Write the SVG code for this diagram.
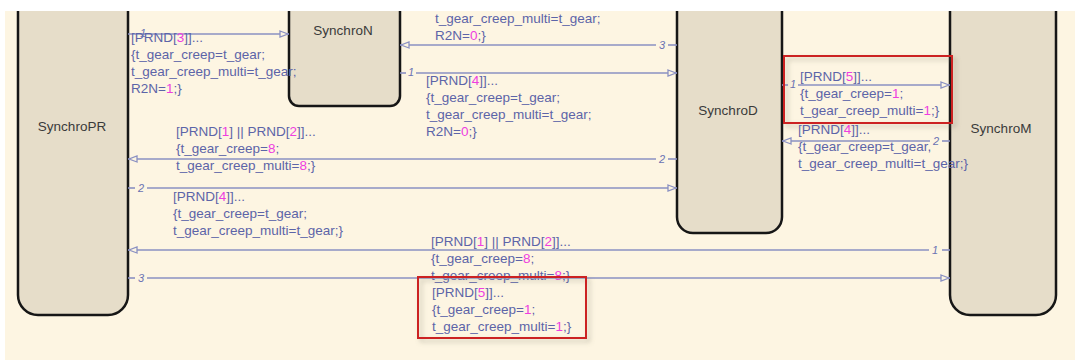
<svg xmlns="http://www.w3.org/2000/svg" width="1075" height="360" viewBox="0 0 1075 360">
<defs>
<style>
.node{fill:#E6DDC9;stroke:#161616;stroke-width:2.5}
.nlab{font-family:"Liberation Sans",Arial,sans-serif;font-size:13.5px;fill:#3a3a3a;text-anchor:middle}
.ln{stroke:#8A90C2;stroke-width:1.6;fill:none}
.num{font-family:"Liberation Sans",Arial,sans-serif;font-size:11px;font-style:italic;fill:#6A72B2;text-anchor:middle}
.lab{font-family:"Liberation Sans",Arial,sans-serif;font-size:13.5px;fill:#5C64A8}
.m{fill:#EE3EE0}
.hl{fill:none;stroke:#CC2424;stroke-width:2;filter:url(#sh)}
</style>
<marker id="ah" viewBox="0 0 10 8" refX="10" refY="4" markerWidth="10" markerHeight="8" markerUnits="userSpaceOnUse" orient="auto">
<path d="M1,1 L9,4 L1,7 Z" fill="#FDF5E2" stroke="#8A90C2" stroke-width="1.3"/>
</marker>
<filter id="sh" x="-10%" y="-10%" width="130%" height="140%">
<feDropShadow dx="3" dy="3" stdDeviation="2.5" flood-color="#808070" flood-opacity="0.45"/>
</filter>
</defs>
<rect x="0" y="0" width="1075" height="360" fill="#FDF5E2"/>

<g id="SynchroPR"><rect class="node" x="18" y="-30" width="110" height="345" rx="20"/><text class="nlab" x="72" y="131">SynchroPR</text></g>
<g id="SynchroN"><rect class="node" x="289" y="-30" width="111" height="136" rx="10"/><text class="nlab" x="343" y="35">SynchroN</text></g>
<g id="SynchroD"><rect class="node" x="677" y="-30" width="105" height="263" rx="16"/><text class="nlab" x="728" y="115">SynchroD</text></g>
<g id="SynchroM"><rect class="node" x="950" y="-30" width="106" height="345" rx="20"/><text class="nlab" x="1001" y="133">SynchroM</text></g>

<g id="connectors">
<!-- c1 PR -> N -->
<line class="ln" x1="128" y1="34" x2="289" y2="34" marker-end="url(#ah)"/>
<text class="lab" x="131" y="42">[PRND[<tspan class="m">3</tspan>]]...</text>
<text class="num" x="143" y="37">1</text>
<text class="lab" x="131" y="59">{t_gear_creep=t_gear;</text>
<text class="lab" x="131" y="76">t_gear_creep_multi=t_gear;</text>
<text class="lab" x="131" y="93">R2N=<tspan class="m">1</tspan>;}</text>
<!-- c2 D -> N -->
<line class="ln" x1="677" y1="45" x2="668" y2="45"/>
<text class="num" x="662" y="49">3</text>
<line class="ln" x1="656" y1="45" x2="400" y2="45" marker-end="url(#ah)"/>
<text class="lab" x="435" y="23">t_gear_creep_multi=t_gear;</text>
<text class="lab" x="435" y="40">R2N=<tspan class="m">0</tspan>;}</text>
<!-- c3 N -> D -->
<line class="ln" x1="400" y1="73" x2="406" y2="73"/>
<text class="num" x="411" y="76">1</text>
<line class="ln" x1="416" y1="73" x2="677" y2="73" marker-end="url(#ah)"/>
<text class="lab" x="426" y="85">[PRND[<tspan class="m">4</tspan>]]...</text>
<text class="lab" x="426" y="102">{t_gear_creep=t_gear;</text>
<text class="lab" x="426" y="119">t_gear_creep_multi=t_gear;</text>
<text class="lab" x="426" y="136">R2N=<tspan class="m">0</tspan>;}</text>
<!-- c4 D -> M -->
<line class="ln" x1="782" y1="85" x2="788" y2="85"/>
<text class="num" x="793" y="88">1</text>
<line class="ln" x1="798" y1="85" x2="950" y2="85" marker-end="url(#ah)"/>
<text class="lab" x="800" y="81">[PRND[<tspan class="m">5</tspan>]]...</text>
<text class="lab" x="800" y="98">{t_gear_creep=<tspan class="m">1</tspan>;</text>
<text class="lab" x="800" y="115">t_gear_creep_multi=<tspan class="m">1</tspan>;}</text>
<rect class="hl" x="784" y="56" width="168" height="67"/>
<!-- c5 M -> D -->
<line class="ln" x1="950" y1="141" x2="942" y2="141"/>
<text class="num" x="936" y="145">2</text>
<line class="ln" x1="930" y1="141" x2="782" y2="141" marker-end="url(#ah)"/>
<text class="lab" x="798" y="134">[PRND[<tspan class="m">4</tspan>]]...</text>
<text class="lab" x="798" y="151">{t_gear_creep=t_gear,</text>
<text class="lab" x="798" y="168">t_gear_creep_multi=t_gear;}</text>
<!-- c6 D -> PR -->
<line class="ln" x1="677" y1="159" x2="668" y2="159"/>
<text class="num" x="662" y="163">2</text>
<line class="ln" x1="656" y1="159" x2="128" y2="159" marker-end="url(#ah)"/>
<text class="lab" x="176" y="136">[PRND[<tspan class="m">1</tspan>] || PRND[<tspan class="m">2</tspan>]]...</text>
<text class="lab" x="176" y="153">{t_gear_creep=<tspan class="m">8</tspan>;</text>
<text class="lab" x="176" y="170">t_gear_creep_multi=<tspan class="m">8</tspan>;}</text>
<!-- c7 PR -> D -->
<line class="ln" x1="128" y1="188" x2="135" y2="188"/>
<text class="num" x="141" y="192">2</text>
<line class="ln" x1="147" y1="188" x2="677" y2="188" marker-end="url(#ah)"/>
<text class="lab" x="173" y="201">[PRND[<tspan class="m">4</tspan>]]...</text>
<text class="lab" x="173" y="218">{t_gear_creep=t_gear;</text>
<text class="lab" x="173" y="235">t_gear_creep_multi=t_gear;}</text>
<!-- c8 M -> PR -->
<line class="ln" x1="950" y1="250" x2="942" y2="250"/>
<text class="num" x="935" y="254">1</text>
<line class="ln" x1="929" y1="250" x2="128" y2="250" marker-end="url(#ah)"/>
<text class="lab" x="431" y="246">[PRND[<tspan class="m">1</tspan>] || PRND[<tspan class="m">2</tspan>]]...</text>
<text class="lab" x="431" y="263">{t_gear_creep=<tspan class="m">8</tspan>;</text>
<text class="lab" x="431" y="280">t_gear_creep_multi=<tspan class="m">8</tspan>;}</text>
<!-- c9 PR -> M -->
<line class="ln" x1="128" y1="278" x2="135" y2="278"/>
<text class="num" x="141" y="282">3</text>
<line class="ln" x1="147" y1="278" x2="950" y2="278" marker-end="url(#ah)"/>
<text class="lab" x="432" y="297">[PRND[<tspan class="m">5</tspan>]]...</text>
<text class="lab" x="432" y="314">{t_gear_creep=<tspan class="m">1</tspan>;</text>
<text class="lab" x="432" y="331">t_gear_creep_multi=<tspan class="m">1</tspan>;}</text>
<rect class="hl" x="418" y="277" width="168" height="61"/>
</g>

<rect x="0" y="0" width="1075" height="11" fill="#FFFFFF"/>
<rect x="0" y="0" width="5" height="360" fill="#FFFFFF"/>
</svg>
